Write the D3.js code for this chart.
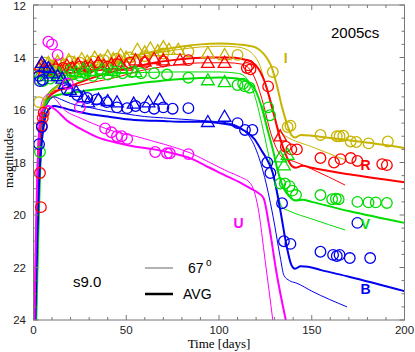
<!DOCTYPE html>
<html lang="en">
<head>
<meta charset="UTF-8">
<title>2005cs light curves</title>
<script src="https://d3js.org/d3.v7.min.js"></script>
<style>
  body { margin: 0; background: #fff; }
  svg { display: block; }
</style>
</head>
<body>
<svg width="415" height="352"></svg>
<script>
// band colours
var bands = ['I', 'R', 'V', 'B', 'U'];
var colors = { I: '#c8b400', R: '#ff0000', V: '#00dd00', B: '#0000ee', U: '#ff00ff' };

// model curves, thick = AVG, thin = 67 deg  [day, mag]
var avgI = [[0.8,24],[1.5,21],[2.5,18.5],[3.5,16.8],[5,15.9],[7,15.5],[10,15.25],[15,15.0],[20,14.8],[30,14.5],[40,14.25],[50,14.05],[60,13.85],[70,13.7],[80,13.58],[90,13.5],[100,13.47],[110,13.5],[116,13.55],[120,13.62],[124,13.85],[128,14.3],[131,15.0],[134,15.9],[137,16.6],[139,16.95],[141,17.05],[144,16.95],[150,16.98],[160,17.07],[182,17.26],[200,17.45]];
var thinI = [[0.8,24],[1.5,21],[2.5,18.3],[3.5,16.7],[5,15.85],[7,15.5],[10,15.3],[15,15.05],[20,14.85],[30,14.55],[40,14.3],[50,14.1],[57,14.0],[70,13.78],[80,13.68],[90,13.6],[100,13.57],[110,13.6],[114,13.67],[118,13.85],[122,14.3],[126,15.3],[130,16.3],[133,16.85],[136,17.0],[150,17.4],[168,17.9]];

var avgR = [[1,24],[2,21],[3,18.5],[4,16.9],[5.5,16.0],[8,15.55],[12,15.3],[18,15.15],[25,14.95],[35,14.7],[45,14.5],[55,14.35],[65,14.2],[75,14.1],[85,14.03],[95,14.0],[105,14.0],[112,14.05],[117,14.15],[121,14.4],[125,15.0],[129,16.0],[133,17.1],[136,17.7],[139.5,18.15],[141.5,18.2],[145,18.12],[150,18.2],[170,18.45],[200,18.75]];
var thinR = [[1,24],[2,21],[3,18.4],[4,16.9],[5.5,16.0],[8,15.5],[12,15.25],[18,15.2],[25,15.05],[35,14.9],[45,14.75],[55,14.55],[65,14.4],[75,14.3],[85,14.22],[95,14.2],[105,14.2],[112,14.25],[116,14.4],[120,14.9],[124,15.8],[128,16.9],[132,17.6],[135,17.85],[140,17.95],[150,18.25],[168,18.86]];

var avgV = [[1.5,24],[2.5,21],[3.5,18.5],[4.5,17],[6,16.0],[8,15.6],[12,15.45],[20,15.35],[30,15.25],[40,15.15],[50,15.05],[60,14.95],[70,14.88],[80,14.82],[90,14.78],[100,14.76],[110,14.8],[116,14.95],[120,15.3],[123,15.9],[126,16.7],[129,17.5],[132,18.4],[135,19.0],[138,19.3],[141,19.45],[145,19.42],[150,19.5],[170,19.85],[200,20.3]];
var thinV = [[1.5,24],[2.5,21],[3.5,18.4],[4.5,17],[6,15.9],[8,15.4],[12,15.1],[20,14.85],[30,14.72],[45,14.62],[60,14.57],[80,14.55],[100,14.55],[110,14.6],[115,14.8],[119,15.4],[123,16.5],[127,17.8],[131,19.0],[134,19.7],[138,19.85],[150,20.15],[168,20.57]];

var avgB = [[1,24],[2,21],[3,18.8],[4.5,17.2],[6,16.4],[8,16.0],[11,15.85],[15,15.9],[20,16.0],[30,16.15],[40,16.25],[50,16.35],[60,16.4],[70,16.42],[80,16.45],[90,16.45],[100,16.5],[108,16.6],[114,16.8],[119,17.1],[123,17.55],[126,17.9],[129,18.4],[133,19.8],[136.5,21.2],[139,21.9],[141,22.05],[144,21.95],[148,21.97],[155,22.1],[170,22.35],[200,22.9]];
var thinB = [[1,24],[2,21],[3,18.6],[4.5,17.0],[6,16.1],[8,15.7],[11,15.5],[15,15.6],[20,15.75],[30,15.9],[40,16.05],[50,16.15],[60,16.25],[70,16.3],[80,16.35],[90,16.4],[100,16.45],[108,16.55],[113,16.75],[118,17.2],[121,17.7],[124,18.4],[129,20.0],[133,21.6],[135,22.3],[138,22.5],[142,22.6],[150,22.9],[169,23.5]];

var avgU = [[0.5,24],[1.2,21],[2,18.6],[3,16.9],[5,16.0],[8,15.85],[12,16.0],[18,16.4],[25,16.7],[35,17.05],[45,17.25],[55,17.4],[65,17.5],[75,17.65],[85,17.85],[95,18.2],[105,18.55],[111,18.75],[116,18.95],[121,19.15],[124,19.35],[127,20.4],[131,22.2],[136,24]];
var thinU = [[0.5,24],[1.2,21],[2,18.3],[3,16.5],[5,15.6],[8,15.4],[12,15.6],[16,15.95],[25,16.3],[35,16.6],[45,16.85],[55,17.0],[65,17.2],[75,17.4],[85,17.65],[95,18.0],[105,18.35],[111.5,18.55],[117,18.8],[121,19.7],[125,21.8],[129,24]];

// observations: circles and triangles  [day, mag]
var circI = [[3,15.7],[6,14.2],[10,14.3],[14,14.25],[20,14.15],[25,14.2],[32,14.15],[38,14.1],[45,14.05],[52,14.0],[60,13.95],[70,13.85],[83.5,13.77],[110,13.9],[129,14.55],[137,16.65],[138.5,16.6],[154.7,16.95],[163.5,17.0],[165,17.0],[167,16.98],[171,17.2],[174,17.22],[180.6,17.27],[191,17.2]];
var triI = [[3,14.4],[5,14.35],[8,14.2],[11,14.3],[13,14.15],[16,14.25],[19,14.1],[22,14.2],[26,14.05],[29,14.15],[33,14.0],[36,14.1],[40,13.95],[43,14.05],[47,13.9],[50,14.0],[56,13.7],[60,13.8],[63,13.65],[67,13.75],[70,13.6],[73,13.7],[78,13.7],[94,13.83],[103,13.9]];

var circR = [[3.5,18.4],[4,19.7],[4.5,16.6],[5,16.3],[5.5,16.1],[8,14.5],[12,14.45],[16,14.4],[20,14.4],[25,14.35],[30,14.4],[35,14.3],[40,14.35],[45,14.25],[52,14.2],[60,14.2],[70,14.15],[83.5,14.1],[115,14.4],[116,14.3],[117,14.45],[126.5,15.1],[136,17.4],[139,17.5],[142,17.5],[154.7,17.83],[162,18.0],[165.5,17.87],[171,17.83],[174.6,17.94],[188,18.06],[190.5,18.1]];
var triR = [[3,14.4],[4,14.3],[6,14.5],[9,14.45],[12,14.35],[15,14.5],[18,14.3],[21,14.4],[24,14.25],[28,14.35],[31,14.3],[35,14.2],[38,14.3],[42,14.25],[46,14.15],[50,14.3],[55,14.1],[60,14.15],[65,14.05],[70,14.1],[79,14.1],[94,14.2],[103,14.2],[133,17.0]];

var circV = [[3.5,17.6],[5,14.9],[9,14.8],[13,14.7],[17,14.75],[21,14.65],[25,14.7],[28,14.6],[32,14.7],[36,14.6],[40,14.65],[44,14.55],[48,14.6],[53,14.55],[58,14.6],[65,14.6],[72,14.65],[83.5,14.77],[110,15.05],[113,15.0],[114,15.1],[116.5,15.15],[126.5,15.9],[127.5,16.2],[133,18.8],[135.5,18.8],[138,18.9],[139.5,19.07],[141.5,19.24],[154.7,19.24],[161,19.4],[163,19.38],[164.5,19.4],[174.6,19.5],[180.6,19.52],[184.5,19.52],[190.5,19.54]];
var triV = [[4,14.6],[7,14.7],[10,14.55],[14,14.6],[19,14.5],[23,14.55],[27,14.45],[31,14.5],[37,14.45],[42,14.5],[47,14.4],[55,14.55],[94,14.86],[103,14.93],[133,17.8],[135,18.1],[137,17.7]];

var circB = [[3,14.7],[3.5,14.9],[5,14.85],[3,17.3],[4.5,16.65],[18,15.24],[23.5,15.43],[29,15.54],[34,15.6],[39.5,15.7],[45,15.9],[50.5,15.93],[55,15.85],[60,15.9],[65,15.95],[70,15.9],[75,15.95],[83.5,15.93],[110,16.5],[114,16.76],[118,16.76],[126,18.0],[127.7,18.4],[134,19.55],[135,21.0],[138.5,21.1],[154.7,21.4],[161.5,21.52],[163.5,21.56],[165,21.52],[170.5,21.64],[174.6,20.3],[181.5,21.64]];
var triB = [[4.5,14.2],[6,14.35],[8,14.4],[10,14.6],[13,14.7],[15.5,14.8],[17,15.0],[19.7,15.24],[23,15.3],[27,15.5],[29.5,15.7],[35,15.6],[40,15.65],[45,15.7],[54,15.75],[62,15.7],[68,15.6],[94,16.45],[103,16.25]];

var circU = [[8,13.4],[10,13.5],[13,13.9],[18.5,15.0],[25,15.9],[38.6,16.7],[42,16.85],[45,17.0],[47.5,17.0],[50.5,17.1],[65.6,17.6],[72,17.65],[73.5,17.65],[83.5,17.68]];

var models = [
  { band: 'I', avg: avgI, thin: thinI }, { band: 'R', avg: avgR, thin: thinR },
  { band: 'V', avg: avgV, thin: thinV }, { band: 'B', avg: avgB, thin: thinB },
  { band: 'U', avg: avgU, thin: thinU }
];
var obs = [
  { band: 'I', circ: circI, tri: triI }, { band: 'R', circ: circR, tri: triR },
  { band: 'V', circ: circV, tri: triV }, { band: 'B', circ: circB, tri: triB },
  { band: 'U', circ: circU, tri: [] }
];

var xTicks = [0, 50, 100, 150, 200];
var yTicks = [12, 14, 16, 18, 20, 22, 24];

var x = d3.scaleLinear().domain([0, 200]).range([33.5, 404.5]);
var y = d3.scaleLinear().domain([12, 24]).range([5, 320]);

var svg = d3.select('svg');

svg.append('clipPath').attr('id', 'clip')
  .append('rect')
  .attr('x', x(0)).attr('y', y(12))
  .attr('width', x(200) - x(0)).attr('height', y(24) - y(12));

var plot = svg.append('g').attr('clip-path', 'url(#clip)');

var line = d3.line()
  .x(function (d) { return x(d[0]); })
  .y(function (d) { return y(d[1]); })
  .curve(d3.curveMonotoneX);

// thin lines (67 deg) then thick (AVG)
models.forEach(function (m) {
  plot.append('path').datum(m.thin)
    .attr('d', line).attr('fill', 'none')
    .attr('stroke', colors[m.band]).attr('stroke-width', 1);
  plot.append('path').datum(m.avg)
    .attr('d', line).attr('fill', 'none')
    .attr('stroke', colors[m.band]).attr('stroke-width', 2);
});

var tri = d3.symbol().type(d3.symbolTriangle).size(70);

obs.forEach(function (o) {
  plot.selectAll(null).data(o.circ).enter()
    .append('circle')
    .attr('cx', function (d) { return x(d[0]); })
    .attr('cy', function (d) { return y(d[1]); })
    .attr('r', 5.3)
    .attr('fill', 'none')
    .attr('stroke', colors[o.band])
    .attr('stroke-width', 1.3);
  plot.selectAll(null).data(o.tri).enter()
    .append('path')
    .attr('d', tri)
    .attr('transform', function (d) { return 'translate(' + x(d[0]) + ',' + (y(d[1]) + 1) + ')'; })
    .attr('fill', 'none')
    .attr('stroke', colors[o.band])
    .attr('stroke-width', 1.3);
});

// frame and inward ticks
var axisColor = '#777';
var gAx = svg.append('g').attr('font-family', 'Liberation Sans, Arial, sans-serif').attr('font-size', 11.5);

gAx.append('rect')
  .attr('x', x(0)).attr('y', y(12))
  .attr('width', x(200) - x(0)).attr('height', y(24) - y(12))
  .attr('fill', 'none').attr('stroke', axisColor).attr('stroke-width', 1);

d3.range(0, 201, 10).forEach(function (t) {
  var len = t % 50 === 0 ? 5 : 3;
  gAx.append('line').attr('x1', x(t)).attr('x2', x(t)).attr('y1', y(24)).attr('y2', y(24) - len).attr('stroke', axisColor);
  gAx.append('line').attr('x1', x(t)).attr('x2', x(t)).attr('y1', y(12)).attr('y2', y(12) + len).attr('stroke', axisColor);
});
d3.range(12, 24.01, 0.5).forEach(function (m) {
  var len = m % 2 === 0 ? 5 : 3;
  gAx.append('line').attr('x1', x(0)).attr('x2', x(0) + len).attr('y1', y(m)).attr('y2', y(m)).attr('stroke', axisColor);
  gAx.append('line').attr('x1', x(200)).attr('x2', x(200) - len).attr('y1', y(m)).attr('y2', y(m)).attr('stroke', axisColor);
});

gAx.selectAll('.xl').data(xTicks).enter().append('text')
  .attr('x', function (d) { return x(d); })
  .attr('y', 334)
  .attr('text-anchor', 'middle')
  .attr('fill', '#222')
  .text(function (d) { return d; });

gAx.selectAll('.yl').data(yTicks).enter().append('text')
  .attr('x', 26)
  .attr('y', function (d) { return Math.max(y(d) + 4, 9.5); })
  .attr('text-anchor', 'end')
  .attr('fill', '#222')
  .text(function (d) { return d; });

// axis titles
svg.append('text')
  .attr('x', x(100)).attr('y', 348)
  .attr('text-anchor', 'middle')
  .attr('font-family', 'Liberation Serif, Times New Roman, serif')
  .attr('font-size', 13)
  .text('Time [days]');

svg.append('text')
  .attr('transform', 'translate(13,158) rotate(-90)')
  .attr('text-anchor', 'middle')
  .attr('font-family', 'Liberation Serif, Times New Roman, serif')
  .attr('font-size', 13)
  .text('magnitudes');

// band labels
var bandLabels = [
  { band: 'I', t: 136, m: 14.2 },
  { band: 'R', t: 179, m: 18.3 },
  { band: 'V', t: 179, m: 20.55 },
  { band: 'B', t: 179, m: 23.0 },
  { band: 'U', t: 110.5, m: 20.5 }
];
svg.selectAll('.bl').data(bandLabels).enter().append('text')
  .attr('x', function (d) { return x(d.t); })
  .attr('y', function (d) { return y(d.m); })
  .attr('text-anchor', 'middle')
  .attr('font-family', 'Liberation Sans, Arial, sans-serif')
  .attr('font-weight', 'bold')
  .attr('font-size', 14)
  .attr('fill', function (d) { return colors[d.band]; })
  .text(function (d) { return d.band; });

// annotations
svg.append('text').attr('x', 331).attr('y', 38)
  .attr('font-family', 'Liberation Sans, Arial, sans-serif').attr('font-size', 15)
  .text('2005cs');
svg.append('text').attr('x', 73).attr('y', 287)
  .attr('font-family', 'Liberation Sans, Arial, sans-serif').attr('font-size', 15)
  .text('s9.0');

// legend
var leg = svg.append('g').attr('font-family', 'Liberation Sans, Arial, sans-serif').attr('font-size', 14);
leg.append('line').attr('x1', 145).attr('x2', 173).attr('y1', 268).attr('y2', 268)
  .attr('stroke', '#999').attr('stroke-width', 1.5);
leg.append('text').attr('x', 188).attr('y', 273).text('67');
leg.append('text').attr('x', 206).attr('y', 266).attr('font-size', 10).text('o');
leg.append('line').attr('x1', 145).attr('x2', 173).attr('y1', 294).attr('y2', 294)
  .attr('stroke', '#000').attr('stroke-width', 2.5);
leg.append('text').attr('x', 183).attr('y', 299).text('AVG');
</script>
</body>
</html>
